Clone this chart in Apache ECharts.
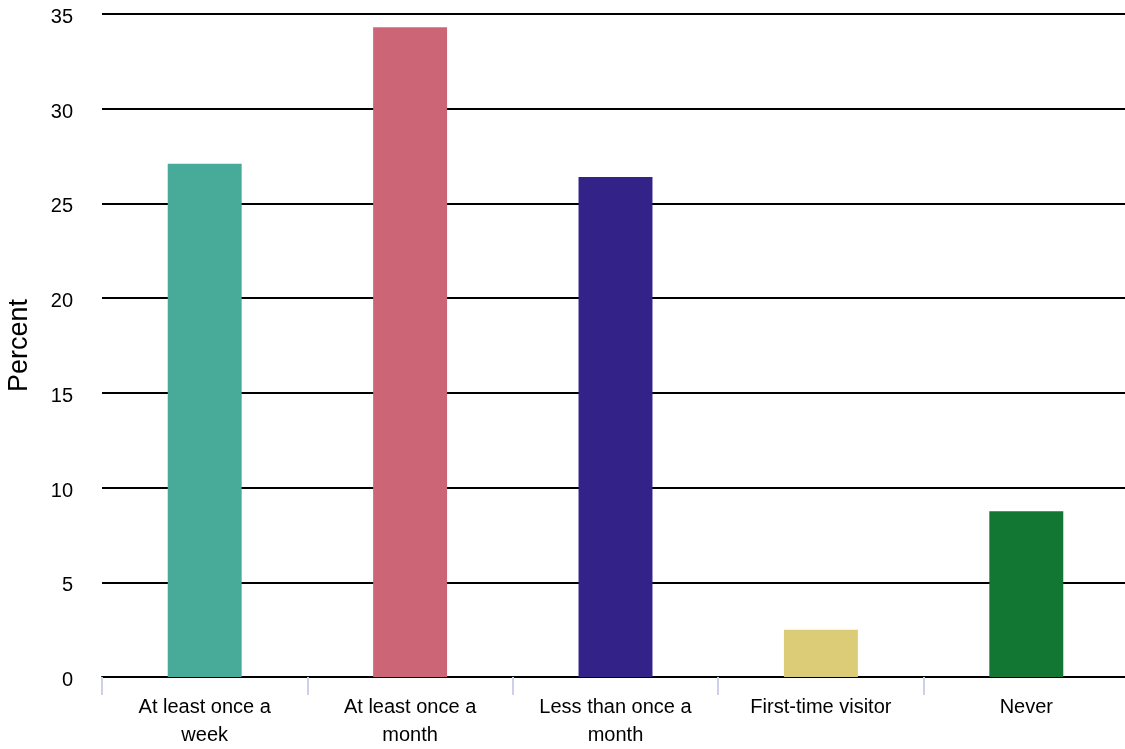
<!DOCTYPE html>
<html>
<head>
<meta charset="utf-8">
<script src="https://cdn.jsdelivr.net/npm/echarts@6/dist/echarts.min.js"></script>
<style>html,body{margin:0;padding:0;background:#fff}#c{width:1125px;height:749px}</style>
</head>
<body>
<div id="c"></div>
<script>
const categories = ["At least once a\nweek", "At least once a\nmonth", "Less than once a\nmonth", "First-time visitor", "Never"];
const values = [27.1, 34.3, 26.4, 2.5, 8.75];
const colors = ["#48aa98", "#cc6677", "#332288", "#ddcc77", "#117733"];
const yTicks = [0, 5, 10, 15, 20, 25, 30, 35];

const chart = echarts.init(document.getElementById('c'), null, {renderer: 'canvas'});
chart.setOption({
  animation: false,
  backgroundColor: '#fff',
  grid: {left: 102, right: -4, top: 14, bottom: 72, containLabel: false, outerBoundsMode: 'none'},
  xAxis: {
    type: 'category',
    data: categories,
    axisLine: {show: true, lineStyle: {color: '#000', width: 2}},
    axisTick: {show: true, length: 18, lineStyle: {color: '#ccd0e8', width: 2}},
    axisLabel: {color: '#000', fontFamily: 'Liberation Sans, Arial, sans-serif', fontSize: 20, lineHeight: 28, margin: 16}
  },
  yAxis: {
    type: 'value',
    min: yTicks[0], max: yTicks[yTicks.length - 1], interval: 5,
    name: 'Percent',
    nameLocation: 'middle',
    nameGap: 69,
    nameRotate: 90,
    nameTextStyle: {color: '#000', fontFamily: 'Liberation Sans, Arial, sans-serif', fontSize: 27},
    axisLine: {show: false},
    axisTick: {show: false},
    axisLabel: {
      color: '#000', fontFamily: 'Liberation Sans, Arial, sans-serif', fontSize: 20, margin: 29,
      formatter: '{a|{value}}',
      rich: {a: {color: '#000', fontFamily: 'Liberation Sans, Arial, sans-serif', fontSize: 20, padding: [7, 0, 0, 0]}}
    },
    splitLine: {show: true, lineStyle: {color: '#000', width: 2}}
  },
  series: [{
    type: 'bar',
    data: values.map((v, i) => ({value: v, itemStyle: {color: colors[i]}})),
    barWidth: '36%',
    z: 3
  }]
});
</script>
</body>
</html>
